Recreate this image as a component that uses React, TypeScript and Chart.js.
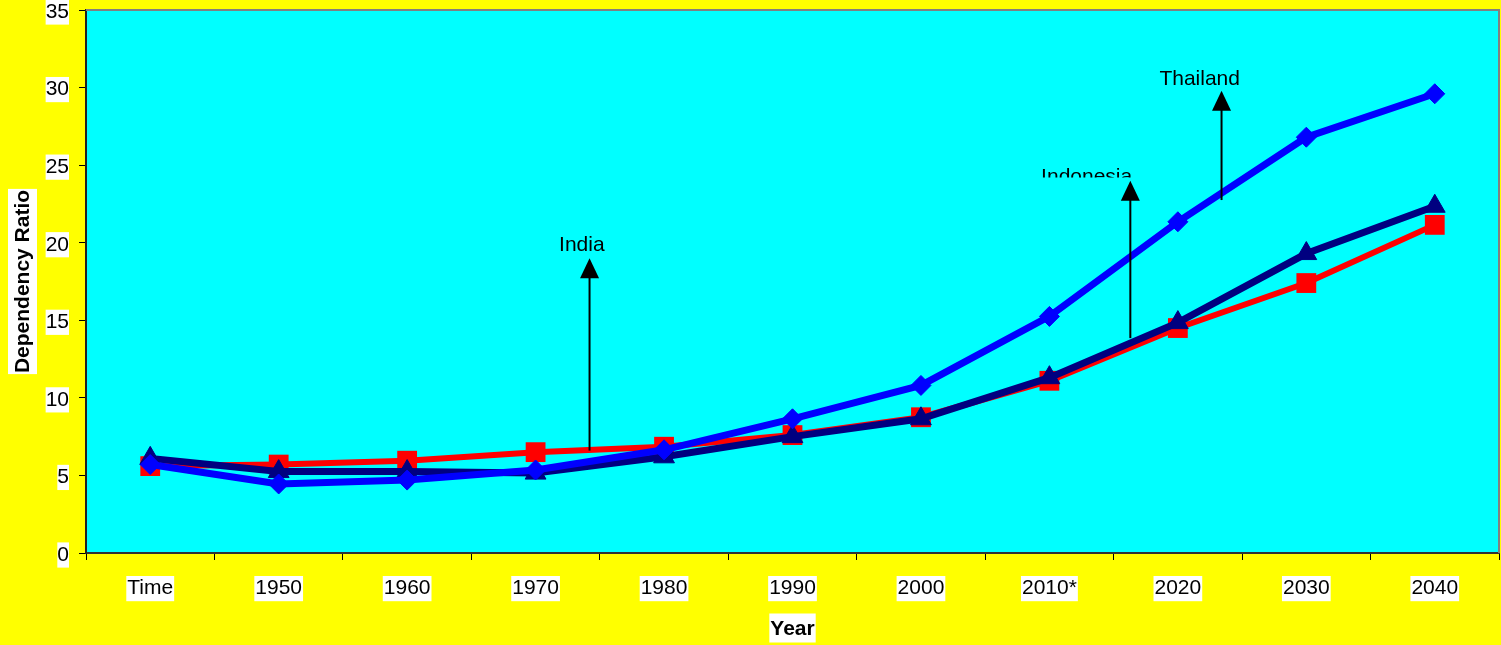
import { useEffect, useRef } from 'react';
import { Chart, registerables } from 'chart.js';

Chart.register(...registerables);

// Categories along the x axis
const categories = ['Time', '1950', '1960', '1970', '1980', '1990', '2000', '2010*', '2020', '2030', '2040'];

// Dependency ratio per country
const india = [5.6, 5.7, 5.95, 6.5, 6.85, 7.6, 8.75, 11.1, 14.5, 17.4, 21.15];
const indonesia = [6.1, 5.25, 5.25, 5.15, 6.2, 7.5, 8.65, 11.3, 14.85, 19.3, 22.35];
const thailand = [5.7, 4.45, 4.7, 5.35, 6.65, 8.65, 10.8, 15.25, 21.35, 26.8, 29.6];

// Y axis range
const yMin = 0;
const yMax = 35;
const yStep = 5;

// Arrow callouts naming each line (x as category index, y in ratio units)
const calloutNames = ['India', 'Indonesia', 'Thailand'];
const calloutShaftX = [3.42, 7.63, 8.34];
const calloutFrom = [6.6, 13.85, 22.75];
const calloutTo = [19.0, 24.0, 29.8];
const calloutLabelX = [3.36, 7.29, 8.17];
const calloutLabelY = [19.82, 24.2, 30.53];
// whether the lower half of a callout label is hidden
const calloutLabelCut = [false, true, false];

const FONT = '"Liberation Sans", Arial, Helvetica, sans-serif';

const panelPlugin = {
  id: 'panelPlugin',
  beforeDraw(chart: any) {
    const { ctx, chartArea: a, width, height } = chart;
    ctx.save();
    ctx.fillStyle = '#FFFF00';
    ctx.fillRect(0, 0, width, height);
    ctx.fillStyle = '#00FFFF';
    ctx.fillRect(a.left, a.top, a.right - a.left, a.bottom - a.top);
    ctx.restore();
  },
  afterDatasetsDraw(chart: any) {
    const { ctx, chartArea: a } = chart;
    const xs = chart.scales.x;
    const ys = chart.scales.y;
    ctx.save();
    // plot frame on top and right
    ctx.strokeStyle = '#808080';
    ctx.lineWidth = 2;
    ctx.beginPath();
    ctx.moveTo(a.left, a.top);
    ctx.lineTo(a.right, a.top);
    ctx.lineTo(a.right, a.bottom);
    ctx.stroke();

    // arrows with labels
    const headH = 20;
    const headW = 19;
    for (let i = 0; i < calloutNames.length; i++) {
      const x = xs.getPixelForValue(calloutShaftX[i]);
      const y0 = ys.getPixelForValue(calloutFrom[i]);
      const y1 = ys.getPixelForValue(calloutTo[i]);
      ctx.strokeStyle = '#000';
      ctx.fillStyle = '#000';
      ctx.lineWidth = 2;
      ctx.beginPath();
      ctx.moveTo(x, y0);
      ctx.lineTo(x, y1 + headH - 1);
      ctx.stroke();
      ctx.beginPath();
      ctx.moveTo(x, y1);
      ctx.lineTo(x + headW / 2, y1 + headH);
      ctx.lineTo(x - headW / 2, y1 + headH);
      ctx.closePath();
      ctx.fill();

      const lx = xs.getPixelForValue(calloutLabelX[i]);
      const ly = ys.getPixelForValue(calloutLabelY[i]);
      ctx.save();
      if (calloutLabelCut[i]) {
        ctx.beginPath();
        ctx.rect(lx - 100, ly - 30, 200, 30);
        ctx.clip();
      }
      ctx.font = `21px ${FONT}`;
      ctx.textAlign = 'center';
      ctx.textBaseline = 'middle';
      ctx.fillText(calloutNames[i], lx, ly);
      ctx.restore();
    }
    ctx.restore();
  },
  afterDraw(chart: any) {
    const { ctx, chartArea: a } = chart;
    ctx.save();
    ctx.font = `bold 21px ${FONT}`;
    ctx.textAlign = 'center';
    ctx.textBaseline = 'middle';

    // y axis title
    const yTitle = 'Dependency Ratio';
    const yw = ctx.measureText(yTitle).width;
    const ycx = 22.5;
    const ycy = (a.top + a.bottom) / 2;
    ctx.fillStyle = '#FFFFFF';
    ctx.fillRect(ycx - 14.5, ycy - yw / 2 - 1, 29, yw + 2);
    ctx.fillStyle = '#000';
    ctx.translate(ycx, ycy);
    ctx.rotate(-Math.PI / 2);
    ctx.fillText(yTitle, 0, 1);
    ctx.setTransform(1, 0, 0, 1, 0, 0);

    // x axis title
    const xTitle = 'Year';
    const xw = ctx.measureText(xTitle).width;
    const xcx = (a.left + a.right) / 2;
    const xcy = 628;
    ctx.fillStyle = '#FFFFFF';
    ctx.fillRect(xcx - xw / 2 - 1, xcy - 14.5, xw + 2, 29);
    ctx.fillStyle = '#000';
    ctx.fillText(xTitle, xcx, xcy + 1);
    ctx.restore();
  },
};

export default function App() {
  const canvasRef = useRef<HTMLCanvasElement | null>(null);

  useEffect(() => {
    const canvas = canvasRef.current;
    if (!canvas) return;
    Chart.defaults.font.family = FONT;

    const chart = new Chart(canvas, {
      type: 'line',
      data: {
        labels: categories,
        datasets: [
          {
            label: 'Thailand',
            data: thailand,
            borderColor: '#0000FF',
            backgroundColor: '#0000FF',
            borderWidth: 7,
            pointStyle: 'rectRot',
            pointRadius: 10,
            pointBorderWidth: 1,
            pointBorderColor: '#0000FF',
            pointBackgroundColor: '#0000FF',
            tension: 0,
          },
          {
            label: 'Indonesia',
            data: indonesia,
            borderColor: '#000080',
            backgroundColor: '#000080',
            borderWidth: 7,
            pointStyle: 'triangle',
            pointRadius: 12,
            pointBorderWidth: 1,
            pointBorderColor: '#000080',
            pointBackgroundColor: '#000080',
            tension: 0,
          },
          {
            label: 'India',
            data: india,
            borderColor: '#FF0000',
            backgroundColor: '#FF0000',
            borderWidth: 6,
            pointStyle: 'rect',
            pointRadius: 14,
            pointBorderWidth: 0,
            pointBackgroundColor: '#FF0000',
            tension: 0,
          },
        ],
      },
      options: {
        animation: false,
        responsive: false,
        devicePixelRatio: 1,
        layout: { autoPadding: false, padding: { top: 10, right: 2, left: 0, bottom: 0 } },
        plugins: {
          legend: { display: false },
          tooltip: { enabled: false },
          title: { display: false },
        },
        events: [],
        scales: {
          x: {
            type: 'category',
            offset: true,
            grid: {
              display: true,
              offset: true,
              drawOnChartArea: false,
              drawTicks: true,
              tickLength: 7,
              color: '#000',
              lineWidth: 1,
            },
            border: { display: true, color: '#333', width: 2 },
            ticks: {
              color: '#000',
              font: { size: 21, family: FONT },
              padding: 16,
              maxRotation: 0,
              autoSkip: false,
              showLabelBackdrop: true,
              backdropColor: '#FFFFFF',
              backdropPadding: { top: 0, bottom: 0, left: 1, right: 1 },
            },
            afterFit(scale: any) {
              scale.height = 92;
              scale.paddingLeft = 0;
              scale.paddingRight = 0;
            },
          },
          y: {
            min: yMin,
            max: yMax,
            grid: {
              display: true,
              drawOnChartArea: false,
              drawTicks: true,
              tickLength: 7,
              color: '#000',
              lineWidth: 1,
            },
            border: { display: true, color: '#222', width: 2 },
            ticks: {
              stepSize: yStep,
              color: '#000',
              font: { size: 21, family: FONT },
              padding: 10,
              labelOffset: 2,
              showLabelBackdrop: true,
              backdropColor: '#FFFFFF',
              backdropPadding: { top: 0, bottom: 0, left: 0, right: 0 },
            },
            afterFit(scale: any) {
              scale.width = 86;
              scale.paddingTop = 0;
              scale.paddingBottom = 0;
            },
          },
        },
      },
      plugins: [panelPlugin],
    });

    return () => chart.destroy();
  }, []);

  return (
    <div style={{ position: 'fixed', left: 0, top: 0, width: 1501, height: 645 }}>
      <canvas ref={canvasRef} width={1501} height={645} style={{ display: 'block' }} />
    </div>
  );
}
